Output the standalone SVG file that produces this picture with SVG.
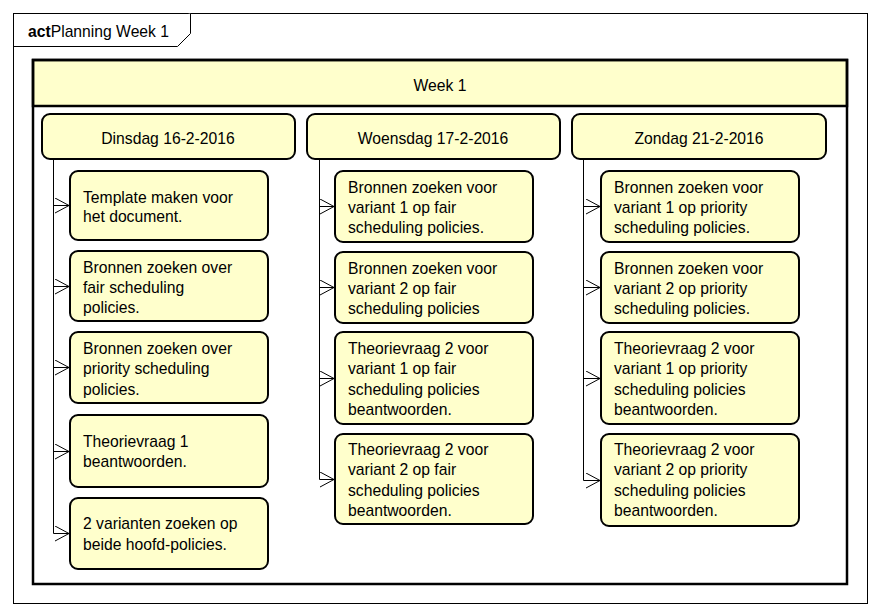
<svg xmlns="http://www.w3.org/2000/svg" width="881" height="616" viewBox="0 0 881 616">
<defs>
<style>
text{font-family:"Liberation Sans",Arial,sans-serif;font-size:15.7px;fill:#000}
.frame{fill:#fff;stroke:#000;stroke-width:1}
.part{fill:none;stroke:#000;stroke-width:2.5}
.hdr{fill:#FFFFCC;stroke:#000;stroke-width:2.5}
.day{fill:#FFFFCC;stroke:#000;stroke-width:2}
.task{fill:#FFFFCC;stroke:#000;stroke-width:2}
.c{fill:none;stroke:#000;stroke-width:1}
.mid{text-anchor:middle}
</style>
<marker id="arr" markerWidth="16" markerHeight="16" viewBox="-15 -8 16 16" refX="0" refY="0" orient="auto" markerUnits="userSpaceOnUse">
<path d="M-14,-7.5 L0,0 L-14,7.5" fill="none" stroke="#000" stroke-width="1"/>
</marker>
</defs>
<rect width="881" height="616" fill="#fff"/>
<g id="frame">
<rect class="frame" x="13.5" y="13.5" width="854" height="590"/>
<path class="frame" d="M13.5,46.5 H177.5 L190.5,33.5 V13.5"/>
<text x="28" y="37"><tspan font-weight="bold">act</tspan>Planning Week 1</text>
</g>
<g id="week1">
<rect class="hdr" x="33" y="60" width="814" height="46"/>
<rect class="part" x="33" y="60" width="814" height="524"/>
<text class="mid" x="440" y="91">Week 1</text>
</g>
<g id="dinsdag">
<rect class="day" x="42" y="114" width="253" height="45" rx="8"/>
<text class="mid" x="168" y="144">Dinsdag 16-2-2016</text>
</g>
<g id="woensdag">
<rect class="day" x="307" y="114" width="253" height="45" rx="8"/>
<text class="mid" x="433" y="144">Woensdag 17-2-2016</text>
</g>
<g id="zondag">
<rect class="day" x="572" y="114" width="254" height="45" rx="8"/>
<text class="mid" x="699" y="144">Zondag 21-2-2016</text>
</g>
<g id="d1"><rect class="task" x="70" y="171" width="198" height="69" rx="8"/><text x="83" y="202.5">Template maken voor</text><text x="83" y="222">het document.</text></g>
<g id="d2"><rect class="task" x="70" y="251" width="198" height="70" rx="8"/><text x="83" y="273">Bronnen zoeken over</text><text x="83" y="293">fair scheduling</text><text x="83" y="313">policies.</text></g>
<g id="d3"><rect class="task" x="70" y="332" width="198" height="71" rx="8"/><text x="83" y="354">Bronnen zoeken over</text><text x="83" y="374">priority scheduling</text><text x="83" y="395">policies.</text></g>
<g id="d4"><rect class="task" x="70" y="415" width="198" height="72" rx="8"/><text x="83" y="447">Theorievraag 1</text><text x="83" y="467">beantwoorden.</text></g>
<g id="d5"><rect class="task" x="70" y="498" width="198" height="71" rx="8"/><text x="83" y="529">2 varianten zoeken op</text><text x="83" y="550">beide hoofd-policies.</text></g>
<g id="w1"><rect class="task" x="335" y="171" width="198" height="71" rx="8"/><text x="348" y="193">Bronnen zoeken voor</text><text x="348" y="213">variant 1 op fair</text><text x="348" y="233">scheduling policies.</text></g>
<g id="w2"><rect class="task" x="335" y="252" width="198" height="71" rx="8"/><text x="348" y="274">Bronnen zoeken voor</text><text x="348" y="294">variant 2 op fair</text><text x="348" y="314">scheduling policies</text></g>
<g id="w3"><rect class="task" x="335" y="332" width="198" height="92" rx="8"/><text x="348" y="354">Theorievraag 2 voor</text><text x="348" y="374">variant 1 op fair</text><text x="348" y="395">scheduling policies</text><text x="348" y="415">beantwoorden.</text></g>
<g id="w4"><rect class="task" x="335" y="434" width="198" height="90" rx="8"/><text x="348" y="455">Theorievraag 2 voor</text><text x="348" y="475">variant 2 op fair</text><text x="348" y="496">scheduling policies</text><text x="348" y="516">beantwoorden.</text></g>
<g id="z1"><rect class="task" x="601" y="171" width="198" height="71" rx="8"/><text x="614" y="193">Bronnen zoeken voor</text><text x="614" y="213">variant 1 op priority</text><text x="614" y="233">scheduling policies.</text></g>
<g id="z2"><rect class="task" x="601" y="252" width="198" height="71" rx="8"/><text x="614" y="274">Bronnen zoeken voor</text><text x="614" y="294">variant 2 op priority</text><text x="614" y="314">scheduling policies.</text></g>
<g id="z3"><rect class="task" x="601" y="332" width="198" height="92" rx="8"/><text x="614" y="354">Theorievraag 2 voor</text><text x="614" y="374">variant 1 op priority</text><text x="614" y="395">scheduling policies</text><text x="614" y="415">beantwoorden.</text></g>
<g id="z4"><rect class="task" x="601" y="434" width="198" height="92" rx="8"/><text x="614" y="455">Theorievraag 2 voor</text><text x="614" y="475">variant 2 op priority</text><text x="614" y="496">scheduling policies</text><text x="614" y="516">beantwoorden.</text></g>
<g id="connectors">
<path class="c" marker-end="url(#arr)" d="M53.5,159 V205.5 H69"/>
<path class="c" marker-end="url(#arr)" d="M53.5,159 V286.5 H69"/>
<path class="c" marker-end="url(#arr)" d="M53.5,159 V367.5 H69"/>
<path class="c" marker-end="url(#arr)" d="M53.5,159 V451.5 H69"/>
<path class="c" marker-end="url(#arr)" d="M53.5,159 V533.5 H69"/>
<path class="c" marker-end="url(#arr)" d="M319.5,159 V206.5 H334"/>
<path class="c" marker-end="url(#arr)" d="M319.5,159 V287.5 H334"/>
<path class="c" marker-end="url(#arr)" d="M319.5,159 V378.5 H334"/>
<path class="c" marker-end="url(#arr)" d="M319.5,159 V479.5 H334"/>
<path class="c" marker-end="url(#arr)" d="M583.5,159 V206.5 H600"/>
<path class="c" marker-end="url(#arr)" d="M583.5,159 V287.5 H600"/>
<path class="c" marker-end="url(#arr)" d="M583.5,159 V378.5 H600"/>
<path class="c" marker-end="url(#arr)" d="M583.5,159 V480.5 H600"/>
</g>
</svg>
